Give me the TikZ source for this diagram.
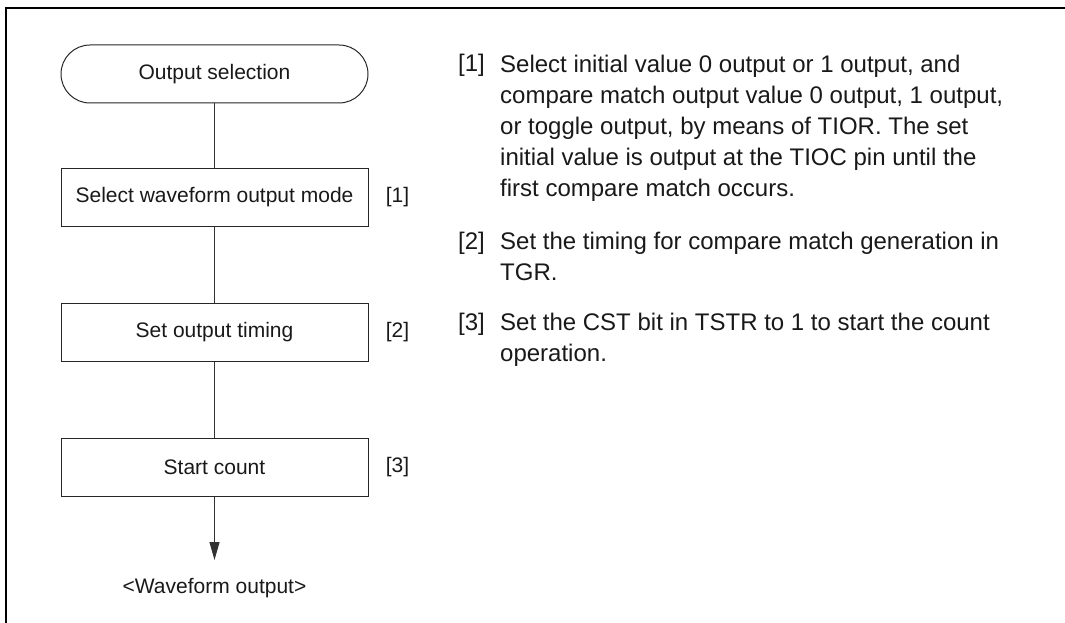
\documentclass[tikz,border=0pt]{standalone}
\usepackage{fontspec}
\setmainfont{Liberation Sans}
\usetikzlibrary{arrows.meta}
\begin{document}
\begin{tikzpicture}[x=1pt,y=-1pt,
  flow/.style={draw=black!85,line width=1pt,minimum width=307pt,minimum height=58pt,inner sep=0pt,font=\fontsize{21}{25}\selectfont,text=black!90},
  term/.style={flow,rounded corners=29pt},
  conn/.style={draw=black!80,line width=1pt},
  steplabel/.style={font=\fontsize{21}{25}\selectfont,text=black!90,inner sep=0pt},
  desc/.style={font=\fontsize{24}{31}\selectfont,text=black!90,inner sep=0pt,anchor=north west,align=left},
  desclabel/.style={font=\fontsize{24}{31}\selectfont,text=black!90,inner sep=0pt,anchor=base west}]
\useasboundingbox (0,0) rectangle (1065,623);
\draw[line width=2pt] (1066,8) -- (6,8) -- (6,624);
\node[term] (start) at (214.5,74) {Output selection};
\node[flow] (b1) at (214.5,197) {Select waveform output mode};
\node[flow] (b2) at (214.5,332.5) {Set output timing};
\node[flow] (b3) at (214.5,467) {Start count};
\coordinate (tip) at (214.5,560);
\node[steplabel] (out) at (214.5,588) {<Waveform output>};
\node[steplabel] (l1) at (397.5,197) {[1]};
\node[steplabel] (l2) at (397.5,332.5) {[2]};
\node[steplabel] (l3) at (397.5,467) {[3]};
\draw[conn] (start) -- (b1);
\draw[conn] (b1) -- (b2);
\draw[conn] (b2) -- (b3);
\draw[conn,-{Triangle[length=18pt,width=10pt]}] (b3) -- (tip);
\node[desclabel] (d1l) at (458,72) {[1]};
\node[desc] (d1) at (500,50.3) {\strut Select initial value 0 output or 1 output, and\\compare match output value 0 output, 1 output,\\or toggle output, by means of TIOR. The set\\initial value is output at the TIOC pin until the\\first compare match occurs.};
\node[desclabel] (d2l) at (458,249) {[2]};
\node[desc] (d2) at (500,227.3) {\strut Set the timing for compare match generation in\\TGR.};
\node[desclabel] (d3l) at (458,330) {[3]};
\node[desc] (d3) at (500,308.3) {\strut Set the CST bit in TSTR to 1 to start the count\\operation.};
\end{tikzpicture}
\end{document}
